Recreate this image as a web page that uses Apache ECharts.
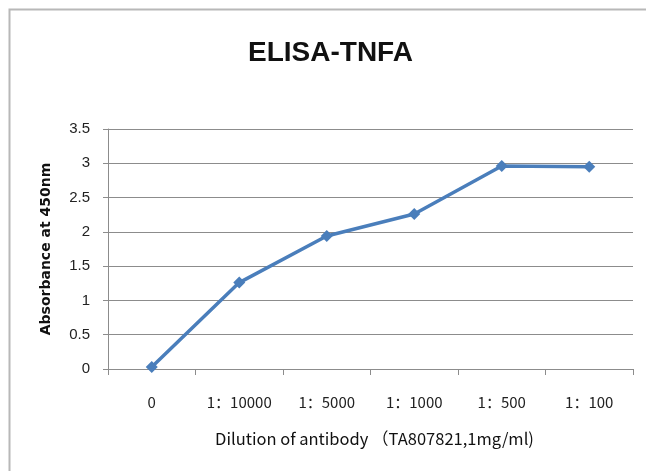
<!DOCTYPE html>
<html>
<head>
<meta charset="utf-8">
<script src="https://cdn.jsdelivr.net/npm/echarts@6/dist/echarts.min.js"></script>
<style>html,body{margin:0;padding:0;background:#fff;}#c{width:646px;height:471px;}</style>
</head>
<body>
<div id="c"></div>
<script>
var categories = ['0', '1：10000', '1：5000', '1：1000', '1：500', '1：100'];
var absorbance = [0.03, 1.26, 1.94, 2.26, 2.96, 2.95];
var titleText = 'ELISA-TNFA';
var yName = 'Absorbance at 450nm';
var xName = 'Dilution of antibody （TA807821,1mg/ml)';

var chart = echarts.init(document.getElementById('c'));
chart.setOption({
  animation: false,
  backgroundColor: '#fff',
  graphic: [{
    type: 'rect', left: 7, top: 7,
    shape: { width: 700, height: 520 },
    style: { fill: 'none', stroke: '#b8b8b8', lineWidth: 2 },
    silent: true
  }],
  title: {
    text: titleText, left: 243, top: 34,
    textStyle: { fontFamily: 'Liberation Sans', fontWeight: 'bold', fontSize: 28, color: '#111' }
  },
  grid: { left: 108, right: 13, top: 129, bottom: 102 },
  xAxis: {
    type: 'category', data: categories, boundaryGap: true,
    axisLine: { lineStyle: { color: '#8c8c8c', width: 1 } },
    axisTick: { show: true, length: 6, interval: 0, lineStyle: { color: '#8c8c8c' } },
    axisLabel: { margin: 26, interval: 0, color: '#222', fontSize: 15, fontFamily: 'Noto Sans CJK SC' },
    name: xName, nameLocation: 'middle', nameGap: 61,
    nameTextStyle: { color: '#111', fontSize: 16.5, fontFamily: 'Noto Sans CJK SC', padding: [0, 0, 0, 8] }
  },
  yAxis: {
    type: 'value', min: 0, max: 3.5, interval: 0.5,
    axisLine: { show: true, lineStyle: { color: '#8c8c8c', width: 1 } },
    axisTick: { show: true, length: 5, lineStyle: { color: '#8c8c8c' } },
    axisLabel: { margin: 18, color: '#222', fontSize: 15, fontFamily: 'Liberation Sans' },
    splitLine: { lineStyle: { color: '#8c8c8c', width: 1.2 } },
    name: yName, nameLocation: 'middle', nameGap: 55,
    nameTextStyle: { color: '#111', fontSize: 14, fontWeight: 'bold', fontFamily: 'DejaVu Sans' }
  },
  series: [{
    type: 'line', data: absorbance,
    symbol: 'diamond', symbolSize: 12,
    lineStyle: { color: '#4a7ebb', width: 3.5 },
    itemStyle: { color: '#4a7ebb' }
  }]
});
</script>
</body>
</html>
